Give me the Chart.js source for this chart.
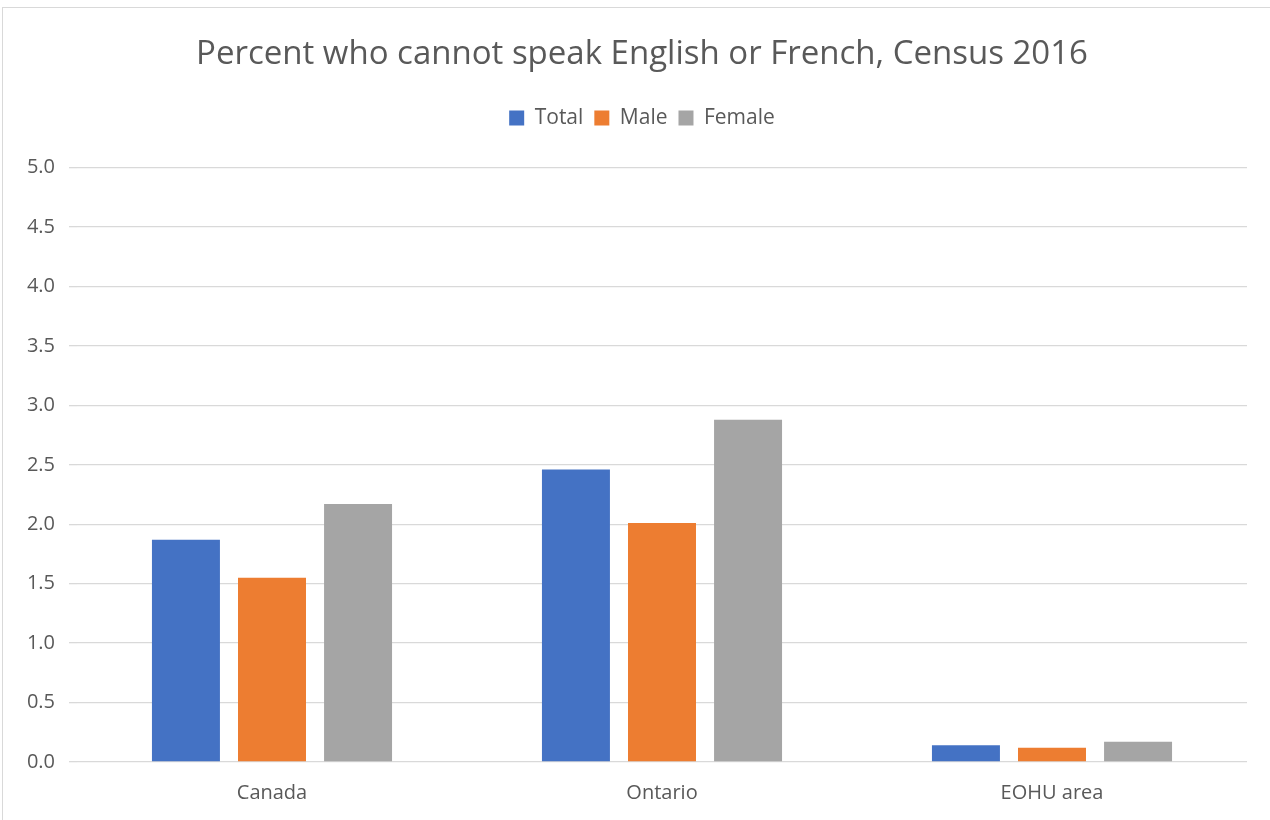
<!DOCTYPE html>
<html lang="en">
<head>
    <meta charset="UTF-8">
    <title>Percent who cannot speak English or French</title>
    <script src="https://cdn.jsdelivr.net/npm/chart.js"></script>
    <style>
        body { margin: 0; background: #fff; overflow: hidden; }
        #frame { position: absolute; left: 2px; top: 7px; width: 1280px; height: 830px; border: 1px solid #d9d9d9; box-sizing: border-box; }
        #wrap { position: absolute; left: 0; top: 0; width: 1284px; height: 820px; }
    </style>
</head>
<body>
<div id="frame"></div>
<div id="wrap"><canvas id="chart"></canvas></div>
<script>
    // data
    const regions = ['Canada', 'Ontario', 'EOHU area'];
    const totalVals = [1.87, 2.46, 0.14];
    const maleVals = [1.55, 2.01, 0.12];
    const femaleVals = [2.17, 2.88, 0.17];
    const seriesNames = ['Total', 'Male', 'Female'];
    const seriesColors = ['#4472c4', '#ed7d31', '#a5a5a5'];

    const font = "'Open Sans', Lato, sans-serif";
    const grey = '#595959';

    // push plot area down below the legend
    const legendGap = {
        id: 'legendGap',
        beforeInit(chart) {
            const fit = chart.legend.fit;
            chart.legend.fit = function () {
                fit.bind(chart.legend)();
                this.height += 29;
            };
        }
    };

    const ctx = document.getElementById('chart').getContext('2d');
    new Chart(ctx, {
        type: 'bar',
        data: {
            labels: regions,
            datasets: [totalVals, maleVals, femaleVals].map((vals, i) => ({
                label: seriesNames[i],
                data: vals,
                backgroundColor: seriesColors[i],
                categoryPercentage: 0.662,
                barPercentage: 0.79
            }))
        },
        options: {
            responsive: true,
            maintainAspectRatio: false,
            animation: false,
            layout: { padding: { left: 0, right: 0, top: 0, bottom: 0 } },
            plugins: {
                title: {
                    display: true,
                    text: 'Percent who cannot speak English or French, Census 2016',
                    color: grey,
                    font: { family: font, size: 33, weight: 'normal' },
                    padding: { top: 35, bottom: 22 }
                },
                legend: {
                    labels: {
                        color: grey,
                        font: { family: font, size: 21 },
                        boxWidth: 15,
                        boxHeight: 15,
                        padding: 11
                    }
                },
                tooltip: { enabled: false }
            },
            scales: {
                x: {
                    grid: { display: false },
                    border: { display: false },
                    afterFit: (axis) => { axis.height = 58; },
                    ticks: { color: grey, font: { family: font, size: 20 }, padding: 11 }
                },
                y: {
                    min: 0,
                    max: 5,
                    afterFit: (axis) => { axis.width = 77; },
                    grid: { color: '#d9d9d9', lineWidth: 1.3 },
                    border: { display: false },
                    ticks: {
                        stepSize: 0.5,
                        color: grey,
                        font: { family: font, size: 20 },
                        padding: 14,
                        callback: (v) => v.toFixed(1)
                    }
                },
                // empty right-hand spacer so the plot ends where the reference does
                spacer: {
                    position: 'right',
                    display: true,
                    grid: { display: false },
                    border: { display: false },
                    ticks: { display: false },
                    afterFit: (axis) => { axis.width = 37; }
                }
            }
        },
        plugins: [legendGap]
    });
</script>
</body>
</html>
